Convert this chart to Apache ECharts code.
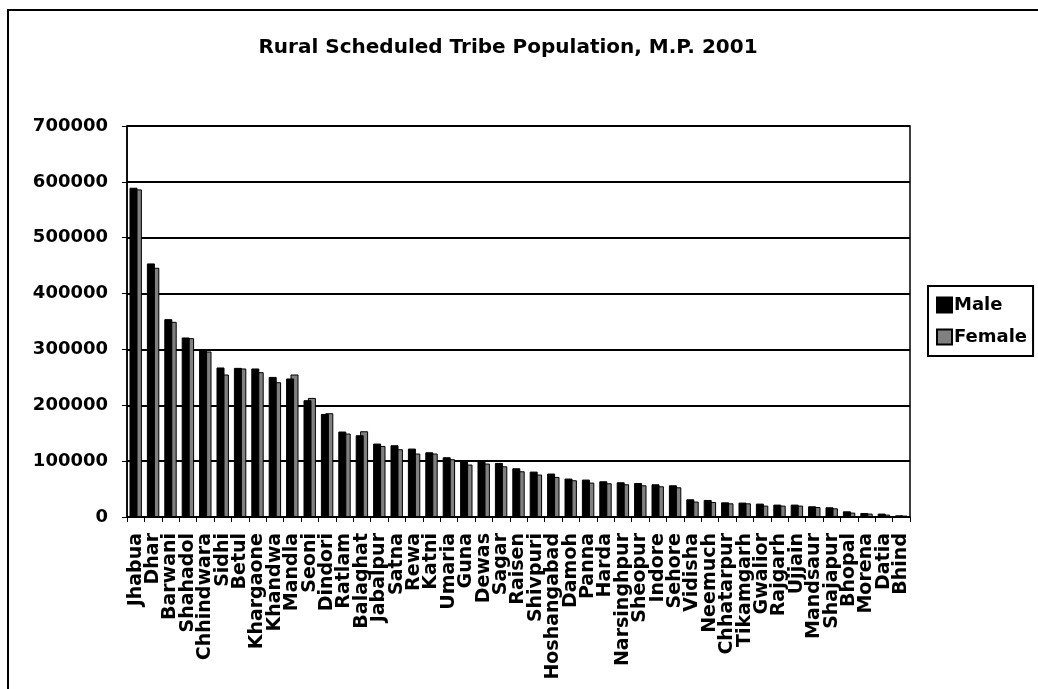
<!DOCTYPE html>
<html>
<head>
<meta charset="utf-8">
<script src="https://cdn.jsdelivr.net/npm/echarts@6/dist/echarts.min.js"></script>
<style>
  html, body { margin: 0; padding: 0; background: #fff; }
  #chart { width: 1038px; height: 689px; }
</style>
</head>
<body>
<div id="chart"></div>
<script>
// Districts of Madhya Pradesh, ordered by rural ST population
const districts = [
  'Jhabua', 'Dhar', 'Barwani', 'Shahadol', 'Chhindwara', 'Sidhi', 'Betul',
  'Khargaone', 'Khandwa', 'Mandla', 'Seoni', 'Dindori', 'Ratlam', 'Balaghat',
  'Jabalpur', 'Satna', 'Rewa', 'Katni', 'Umaria', 'Guna', 'Dewas', 'Sagar',
  'Raisen', 'Shivpuri', 'Hoshangabad', 'Damoh', 'Panna', 'Harda', 'Narsinghpur',
  'Sheopur', 'Indore', 'Sehore', 'Vidisha', 'Neemuch', 'Chhatarpur', 'Tikamgarh',
  'Gwalior', 'Rajgarh', 'Ujjain', 'Mandsaur', 'Shajapur', 'Bhopal', 'Morena',
  'Datia', 'Bhind'
];

const male = [
  589500, 454000, 354200, 321400, 299200, 267700, 267000,
  265900, 250800, 248000, 209100, 184500, 153000, 146400,
  131500, 128500, 122500, 115900, 107000, 101600, 99800, 96800,
  87300, 81300, 77800, 68800, 67000, 64000, 62200,
  60900, 58600, 56800, 31700, 30500, 26300, 25800,
  24000, 22200, 22200, 19200, 17400, 10200, 7200,
  6100, 3000
];

const female = [
  586500, 446200, 349400, 320200, 296300, 255100, 265900,
  259300, 241300, 255100, 213200, 185800, 149400, 153500,
  127200, 121300, 113600, 113600, 103400, 93900, 95700, 90800,
  81900, 76000, 71700, 65800, 61600, 60400, 58600,
  56800, 55000, 53200, 27600, 26900, 24500, 24500,
  20400, 20400, 20400, 17900, 15600, 7900, 6100,
  4300, 2500
];

const yTicks = { min: 0, max: 700000, step: 100000 };

const FONT = 'DejaVu Sans';
const chart = echarts.init(document.getElementById('chart'));

chart.setOption({
  backgroundColor: '#ffffff',
  animation: false,
  title: {
    text: 'Rural Scheduled Tribe Population, M.P. 2001',
    left: 503,
    textAlign: 'center',
    top: 33,
    textStyle: { fontFamily: FONT, fontSize: 20, fontWeight: 'bold', color: '#000' }
  },
  graphic: [{
    type: 'rect',
    shape: { x: 8, y: 10, width: 1060, height: 720 },
    style: { fill: 'none', stroke: '#000', lineWidth: 2 },
    silent: true
  }],
  legend: {
    orient: 'vertical',
    left: 928,
    top: 286,
    padding: [10, 6, 10, 8],
    itemGap: 14,
    itemWidth: 15,
    itemHeight: 15,
    borderColor: '#000',
    borderWidth: 2,
    icon: 'rect',
    textStyle: { fontFamily: FONT, fontSize: 18, fontWeight: 'bold', color: '#000', padding: [0, 0, 0, -3] },
    data: ['Male', 'Female']
  },
  grid: {
    left: 127, right: 128, top: 126, bottom: 172,
    show: true, borderColor: '#000', borderWidth: 1.5, containLabel: false
  },
  xAxis: {
    type: 'category',
    data: districts,
    axisLine: { lineStyle: { color: '#000', width: 1.5 } },
    axisTick: { show: true, length: 5, lineStyle: { color: '#000', width: 1 } },
    axisLabel: {
      interval: 0, rotate: 90, margin: 16,
      fontFamily: FONT, fontSize: 19, fontWeight: 'bold', color: '#000'
    }
  },
  yAxis: {
    type: 'value',
    min: yTicks.min, max: yTicks.max, interval: yTicks.step,
    axisLine: { show: true, lineStyle: { color: '#000', width: 1.5 } },
    axisTick: { show: true, length: 5, lineStyle: { color: '#000', width: 1 } },
    splitLine: { lineStyle: { color: '#000', width: 2 } },
    axisLabel: {
      margin: 19, fontFamily: FONT, fontSize: 18, fontWeight: 'bold', color: '#000',
      formatter: v => String(v)
    }
  },
  series: [
    {
      name: 'Male', type: 'bar', data: male, z: 3,
      barWidth: 8, barGap: '-45%',
      itemStyle: { color: '#000', borderColor: '#000', borderWidth: 1 }
    },
    {
      name: 'Female', type: 'bar', data: female, z: 2,
      barWidth: 8,
      itemStyle: { color: '#808080', borderColor: '#000', borderWidth: 1 }
    }
  ]
});
</script>
</body>
</html>
